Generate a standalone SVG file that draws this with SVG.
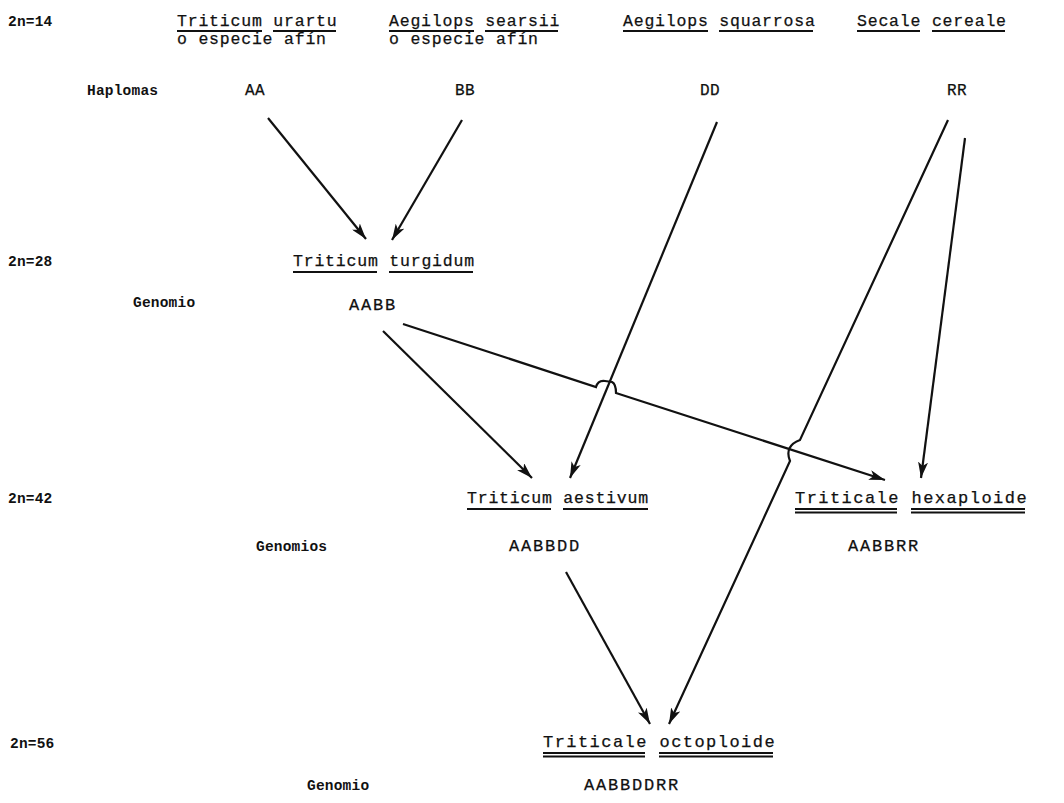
<svg xmlns="http://www.w3.org/2000/svg" width="1064" height="803" viewBox="0 0 1064 803">
<style>
.bg{fill:#fff}
.sp{font-family:"Liberation Mono","DejaVu Sans Mono",monospace;font-size:16.5px;letter-spacing:0.8px;fill:#111;stroke:#111;stroke-width:0.25}
.tc{font-family:"Liberation Mono","DejaVu Sans Mono",monospace;font-size:17px;letter-spacing:1.45px;fill:#111;stroke:#111;stroke-width:0.25}
.lb{font-family:"Liberation Mono","DejaVu Sans Mono",monospace;font-size:14.5px;font-weight:bold;letter-spacing:0.2px;fill:#111}
.gn{font-family:"Liberation Mono","DejaVu Sans Mono",monospace;font-size:17px;letter-spacing:1.8px;fill:#111;stroke:#111;stroke-width:0.25}
.hp{font-family:"Liberation Mono","DejaVu Sans Mono",monospace;font-size:16px;letter-spacing:0.4px;fill:#111;stroke:#111;stroke-width:0.25}
.ul{stroke:#111;stroke-width:1.8;fill:none}
.ar{stroke:#111;stroke-width:2.2;fill:none;marker-end:url(#ah)}
</style>
<defs>
<marker id="ah" markerUnits="userSpaceOnUse" markerWidth="18" markerHeight="10" refX="16" refY="5" orient="auto">
<path d="M0,0 L16,5 L0,10 L4,5 z" fill="#111"/>
</marker>
</defs>
<rect class="bg" x="0" y="0" width="1064" height="803"/>

<g id="levels">
<text class="lb" x="8" y="26">2n=14</text>
<text class="lb" x="8" y="266">2n=28</text>
<text class="lb" x="8" y="503">2n=42</text>
<text class="lb" x="10" y="748">2n=56</text>
<text class="lb" x="87" y="95">Haplomas</text>
<text class="lb" x="133" y="307">Genomio</text>
<text class="lb" x="256" y="551">Genomios</text>
<text class="lb" x="307" y="790">Genomio</text>
</g>

<g id="urartu">
<text class="sp" x="177" y="26">Triticum urartu</text>
<text class="sp" x="177" y="44">o especie afín</text>
<path class="ul" d="M177,31 H262 M273,31 H336"/>
<text class="hp" x="245" y="95">AA</text>
</g>

<g id="searsii">
<text class="sp" x="389" y="26">Aegilops searsii</text>
<text class="sp" x="389" y="44">o especie afín</text>
<path class="ul" d="M389,31 H474 M485,31 H558"/>
<text class="hp" x="455" y="95">BB</text>
</g>

<g id="squarrosa">
<text class="sp" x="623" y="26">Aegilops squarrosa</text>
<path class="ul" d="M623,31 H708 M719,31 H813"/>
<text class="hp" x="700" y="95">DD</text>
</g>

<g id="cereale">
<text class="sp" x="857" y="26">Secale cereale</text>
<path class="ul" d="M857,31 H920 M932,31 H1005"/>
<text class="hp" x="947" y="95">RR</text>
</g>

<g id="turgidum">
<text class="sp" x="293" y="266">Triticum turgidum</text>
<path class="ul" d="M293,272 H377 M389,272 H473"/>
<text class="gn" x="349" y="310">AABB</text>
</g>

<g id="aestivum">
<text class="sp" x="467" y="503">Triticum aestivum</text>
<path class="ul" d="M467,509 H551 M563,509 H648"/>
<text class="gn" x="509" y="551">AABBDD</text>
</g>

<g id="hexaploide">
<text class="tc" x="795" y="503">Triticale hexaploide</text>
<path class="ul" d="M795,509 H897 M911,509 H1025 M795,512.5 H897 M911,512.5 H1025"/>
<text class="gn" x="848" y="551">AABBRR</text>
</g>

<g id="octoploide">
<text class="tc" x="543" y="747">Triticale octoploide</text>
<path class="ul" d="M543,753 H645 M659,753 H773 M543,756.5 H645 M659,756.5 H773"/>
<text class="gn" x="584" y="790">AABBDDRR</text>
</g>

<g id="connectors">
<path class="ar" d="M268,118 L366,239"/>
<path class="ar" d="M462,120 L392,240"/>
<path class="ar" d="M717,122 L570,478"/>
<path class="ar" d="M965,138 L921,478"/>
<path class="ar" d="M383,331 L532,478"/>
<path class="ar" d="M566,572 L650,724"/>
<path class="ar" d="M403,324 L596,387 Q598,380 605,381 L612,382 Q616,384 616,393 L885,480"/>
<path class="ar" d="M948,120 L800,440 Q784,446 790,461 L669,724"/>
</g>
</svg>
